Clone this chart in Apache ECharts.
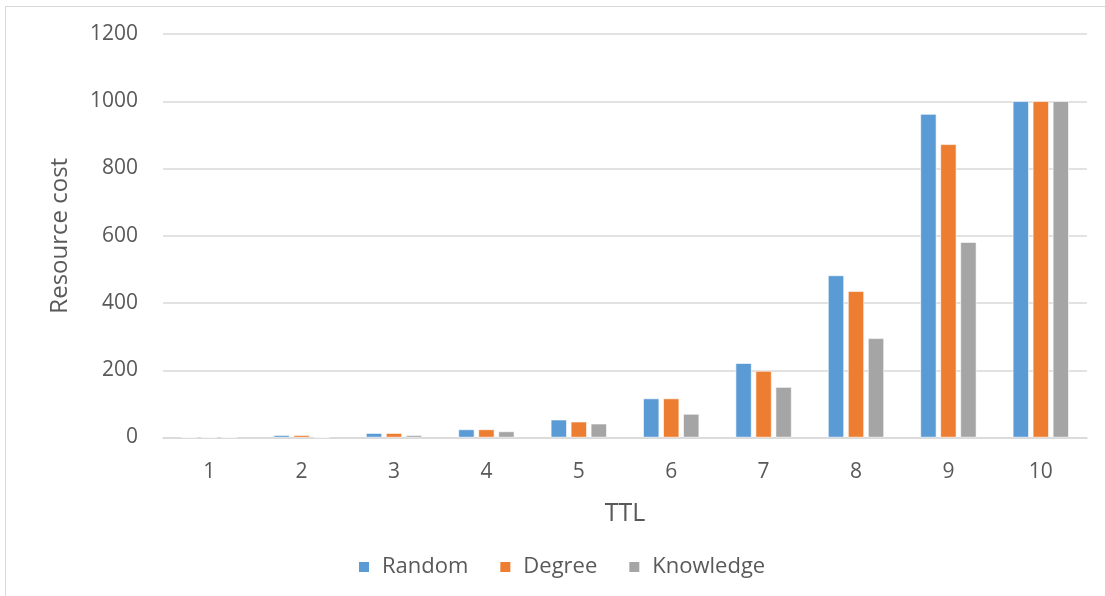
<!DOCTYPE html>
<html>
<head>
<meta charset="utf-8">
<script src="https://cdn.jsdelivr.net/npm/echarts@6/dist/echarts.min.js"></script>
<style>
  html, body { margin: 0; padding: 0; background: #fff; }
  #chart { width: 1105px; height: 596px; }
</style>
</head>
<body>
<div id="chart"></div>
<script>
// TTL values on the x axis
const ttl = ['1', '2', '3', '4', '5', '6', '7', '8', '9', '10'];
// Resource cost per search strategy
const randomCost    = [1, 7, 13, 24, 53, 116, 221, 482, 962, 1000];
const degreeCost    = [1, 7, 13, 24, 47, 116, 198, 435, 872, 1000];
const knowledgeCost = [1, 1, 7, 18, 41, 70, 150, 295, 581, 1000];
const seriesNames = ['Random', 'Degree', 'Knowledge'];
const colors = ['#5B9BD5', '#ED7D31', '#A5A5A5'];

const font = "'Open Sans', 'Noto Sans', sans-serif";
const textColor = '#595959';
const chart = echarts.init(document.getElementById('chart'), null, { renderer: 'canvas' });

function barSeries(name, data, color) {
  return {
    name: name,
    type: 'bar',
    data: data,
    barWidth: 16,
    barGap: '25%',
    itemStyle: { color: color, borderColor: '#ffffff', borderWidth: 0.6 },
    emphasis: { disabled: true }
  };
}

chart.setOption({
  backgroundColor: '#ffffff',
  animation: false,
  color: colors,
  graphic: [
    { type: 'line', shape: { x1: 5.5, y1: 6, x2: 5.5, y2: 596 }, style: { stroke: '#d9d9d9', lineWidth: 1 } },
    { type: 'line', shape: { x1: 5, y1: 6.5, x2: 1105, y2: 6.5 }, style: { stroke: '#d9d9d9', lineWidth: 1 } }
  ],
  grid: { left: 163, right: 18, top: 34, bottom: 158.5 },
  legend: {
    data: seriesNames,
    top: 556,
    left: 357,
    padding: 0,
    itemWidth: 12,
    itemHeight: 12,
    itemGap: 30,
    icon: 'rect',
    textStyle: { color: textColor, fontSize: 22, fontFamily: font, padding: [0, 0, 0, 7] }
  },
  xAxis: {
    type: 'category',
    data: ttl,
    name: 'TTL',
    nameLocation: 'middle',
    nameGap: 64,
    nameTextStyle: { color: textColor, fontSize: 25, fontFamily: font },
    axisLine: { lineStyle: { color: '#d9d9d9', width: 1.5 } },
    axisTick: { show: false },
    axisLabel: { color: textColor, fontSize: 21, fontFamily: font, margin: 24 }
  },
  yAxis: {
    type: 'value',
    min: 0,
    max: 1200,
    interval: 200,
    name: 'Resource cost',
    nameLocation: 'middle',
    nameGap: 91,
    nameTextStyle: { color: textColor, fontSize: 24, fontFamily: font },
    axisLine: { show: false },
    axisTick: { show: false },
    splitLine: { lineStyle: { color: '#d9d9d9', width: 1.5 } },
    axisLabel: {
      color: textColor, fontSize: 21, fontFamily: font, margin: 25,
      formatter: function (v) { return String(v); }
    }
  },
  series: [
    barSeries(seriesNames[0], randomCost, colors[0]),
    barSeries(seriesNames[1], degreeCost, colors[1]),
    barSeries(seriesNames[2], knowledgeCost, colors[2])
  ]
});
</script>
</body>
</html>
